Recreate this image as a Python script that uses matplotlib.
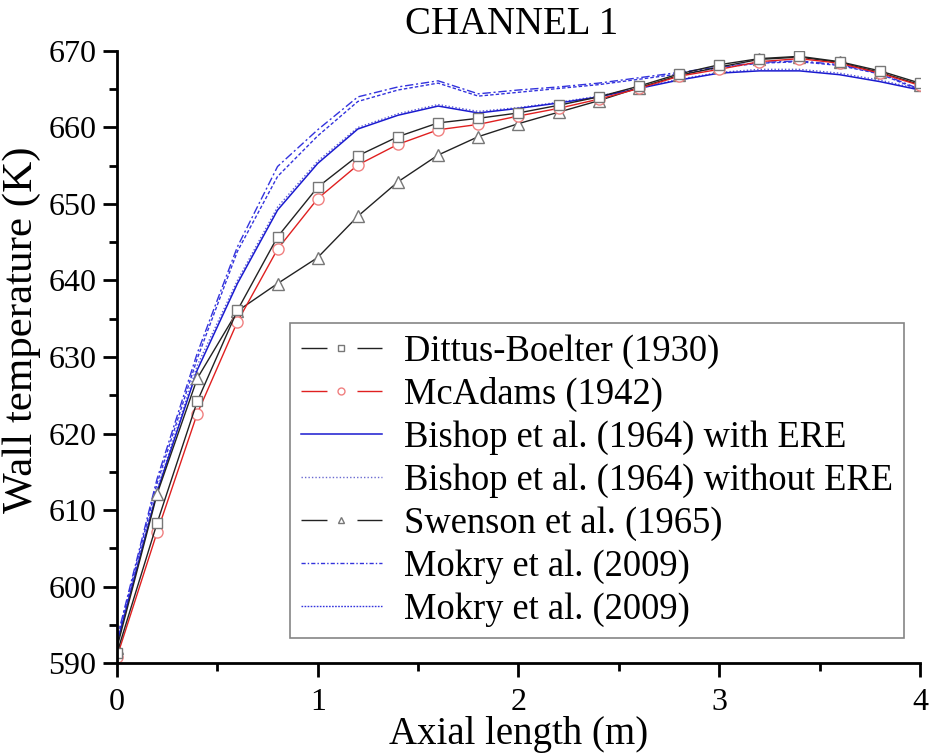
import matplotlib
matplotlib.use('Agg')
import matplotlib.pyplot as plt
from matplotlib.lines import Line2D
from matplotlib.ticker import MultipleLocator

plt.rcParams['font.family'] = ['Liberation Serif', 'DejaVu Serif']

# Wall temperature along the heated length, channel 1
axial = [0.0, 0.2, 0.4, 0.6, 0.8, 1.0, 1.2, 1.4, 1.6, 1.8, 2.0,
         2.2, 2.4, 2.6, 2.8, 3.0, 3.2, 3.4, 3.6, 3.8, 4.0]

dittus = [591.3, 608.3, 624.2, 636.1, 645.7, 652.2, 656.3, 658.8, 660.6, 661.2, 661.9,
          662.9, 664.0, 665.4, 667.0, 668.2, 669.0, 669.3, 668.6, 667.4, 665.8]
mcadams = [590.8, 607.1, 622.6, 634.6, 644.1, 650.7, 655.1, 657.8, 659.7, 660.4, 661.5,
           662.5, 663.7, 665.1, 666.7, 667.6, 668.6, 669.0, 668.4, 667.1, 665.5]
bishop_ere = [592.5, 612.4, 628.3, 639.6, 649.2, 655.3, 659.8, 661.6, 662.8, 661.9, 662.5,
              663.2, 664.0, 665.1, 666.2, 667.1, 667.4, 667.4, 666.9, 666.0, 664.9]
bishop_no_ere = [592.7, 612.7, 628.9, 640.0, 649.6, 655.6, 660.0, 661.8, 663.0, 662.1, 662.6,
                 663.3, 664.1, 665.2, 666.3, 667.2, 667.6, 667.6, 667.1, 666.2, 665.0]
swenson = [592.0, 612.1, 627.2, 636.0, 639.6, 643.0, 648.4, 652.9, 656.4, 658.8, 660.5,
           662.0, 663.5, 665.2, 666.8, 667.9, 668.9, 669.2, 668.5, 667.2, 665.6]
mokry_a = [593.2, 614.1, 630.5, 644.4, 654.9, 659.7, 664.0, 665.3, 666.1, 664.4, 664.9,
           665.3, 665.8, 666.5, 667.2, 667.9, 668.5, 668.7, 668.2, 667.1, 665.0]
mokry_b = [593.0, 613.5, 629.8, 643.8, 653.6, 658.9, 663.4, 664.9, 665.8, 664.1, 664.6,
           665.1, 665.6, 666.3, 667.0, 667.8, 668.4, 668.6, 668.1, 667.0, 664.9]

labels = ['Dittus-Boelter (1930)', 'McAdams (1942)', 'Bishop et al. (1964) with ERE',
          'Bishop et al. (1964) without ERE', 'Swenson et al. (1965)',
          'Mokry et al. (2009)', 'Mokry et al. (2009)']

fig = plt.figure(figsize=(9.32, 7.53), dpi=100)
ax = fig.add_axes([0.1255, 0.1195, 0.8615, 0.8128])

blue = '#1a1ad0'
ax.plot(axial, mokry_a, color='#3333dd', lw=1, ls=(0, (6, 2, 1.5, 2)))
ax.plot(axial, mokry_b, color='#3333dd', lw=1, ls=(0, (2.5, 1.5)))
ax.plot(axial, bishop_no_ere, color='#5a5ad8', lw=1, ls=(0, (1, 1.5)))
ax.plot(axial, bishop_ere, color=blue, lw=1.1)
ax.plot(axial, swenson, color='#222222', lw=1, marker='^', ms=9,
        mfc='white', mec='#777777', mew=1)
ax.plot(axial, mcadams, color='#e02020', lw=1, marker='o', ms=8,
        mfc='white', mec='#f08080', mew=1)
ax.plot(axial, dittus, color='#222222', lw=1, marker='s', ms=7,
        mfc='white', mec='#777777', mew=1)

ax.set_xlim(0, 4)
ax.set_ylim(590, 670)
ax.xaxis.set_major_locator(MultipleLocator(1))
ax.xaxis.set_minor_locator(MultipleLocator(0.5))
ax.yaxis.set_major_locator(MultipleLocator(10))
ax.yaxis.set_minor_locator(MultipleLocator(5))

for side in ['top', 'right']:
    ax.spines[side].set_visible(False)
for side in ['left', 'bottom']:
    ax.spines[side].set_linewidth(2)

ax.tick_params(which='major', direction='out', length=10, width=2, labelsize=23)
ax.tick_params(which='minor', direction='out', length=6, width=2)
ax.tick_params(axis='x', which='major', pad=8)
ax.tick_params(axis='y', which='major', pad=5)

ax.set_xlabel('Axial length (m)', fontsize=28, labelpad=-1)
ax.set_ylabel('Wall temperature (K)', fontsize=31)
ax.yaxis.set_label_coords(-0.094, 0.544)
ax.set_title('CHANNEL 1', fontsize=28, pad=12, x=0.492)

# legend keys: line broken around a small hollow marker
gap = (0, (18.7, 21.6))
handles = [
    Line2D([], [], color='#222222', lw=1, ls=gap, marker='s', ms=5,
           mfc='white', mec='#777777'),
    Line2D([], [], color='#e02020', lw=1, ls=gap, marker='o', ms=5,
           mfc='white', mec='#f08080'),
    Line2D([], [], color=blue, lw=1.1),
    Line2D([], [], color='#6a6ad0', lw=1, ls=(0, (1, 1.5))),
    Line2D([], [], color='#222222', lw=1, ls=gap, marker='^', ms=5,
           mfc='white', mec='#777777'),
    Line2D([], [], color='#3333dd', lw=1, ls=(0, (3, 1.5, 1, 1.5))),
    Line2D([], [], color='#3333dd', lw=1, ls=(0, (1.2, 1))),
]
leg = ax.legend(handles, labels, loc='lower left', bbox_to_anchor=(0.215, 0.041),
                borderaxespad=0, fontsize=26.3, handlelength=2.24, handletextpad=0.6,
                labelspacing=0.227, borderpad=0.3, frameon=True, fancybox=False)
leg.get_frame().set_edgecolor('#666666')
leg.get_frame().set_linewidth(1.2)

fig.savefig('out.png', dpi=100)
